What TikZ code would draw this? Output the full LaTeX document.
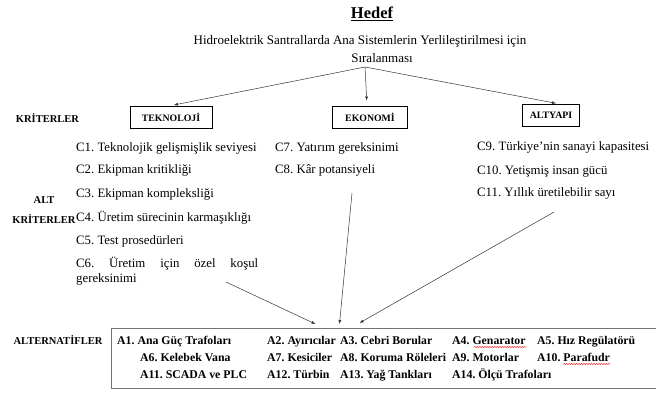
\documentclass[tikz,border=0pt]{standalone}
\usepackage{fontspec}
\setmainfont{Liberation Serif}
\usepackage{tikz}
\usetikzlibrary{arrows.meta,positioning,calc,decorations.pathmorphing}

\begin{document}
\begin{tikzpicture}[x=1pt,y=-1pt,
  baslik/.style={font=\fontsize{13}{16}\selectfont},
  etiket/.style={font=\bfseries\fontsize{10.5}{20}\selectfont},
  kutu/.style={draw,line width=0.9pt,minimum height=22,inner sep=2pt,font=\bfseries\fontsize{9.8}{10}\selectfont},
  altk/.style={anchor=base west,inner sep=0pt,font=\fontsize{12.8}{15}\selectfont},
  alter/.style={anchor=base west,inner sep=0pt,font=\bfseries\fontsize{11.8}{14}\selectfont},
  imla/.style={red!80,line width=0.5pt,decorate,decoration={snake,amplitude=0.6pt,segment length=2.5pt}},
  ok/.style={-{Latex[length=4pt,width=3pt]},line width=0.5pt,black!80}]
  \useasboundingbox (0,0) rectangle (656,394);
  % Hedef
  \node[font=\bfseries\fontsize{16.5}{18}\selectfont] (hedef) at (372,14) {\underline{Hedef}};
  \node[baslik] (amac) at (360,41) {Hidroelektrik Santrallarda Ana Sistemlerin Yerlileştirilmesi için};
  \node[baslik] (amac2) at (382,58) {Sıralanması};
  \coordinate (kok) at (365,67);
  % Kriterler
  \node[etiket] (kriter) at (47.5,118) {KRİTERLER};
  \node[kutu,minimum width=82] (tek) at (171,117) {TEKNOLOJİ};
  \node[kutu,minimum width=75] (eko) at (370,117) {EKONOMİ};
  \node[kutu,minimum width=57] (alty) at (551,115.5) {ALTYAPI};
  \draw[ok,shorten >=3pt] (kok) -- (tek.north);
  \draw[ok,shorten >=5pt] (kok) -- ($(eko.north)+(-3,0)$);
  \draw[ok,shorten >=4pt] (kok) -- ($(alty.north)+(9,0)$);
  % Alt kriterler
  \node[etiket,align=center] (altkriter) at (44,210) {ALT\\KRİTERLER};
  \foreach \i/\y/\t in {1/151/Teknolojik gelişmişlik seviyesi, 2/173/Ekipman kritikliği,
    3/197/Ekipman kompleksliği, 4/221/Üretim sürecinin karmaşıklığı, 5/244/Test prosedürleri}{
    \node[altk] (c\i) at (76,\y) {C\i.\ \t};
  }
  \node[altk,text width=182,align=justify] (c6) at (76,267)
    {\hyphenpenalty=10000 C6.\ Üretim için özel koşul \mbox{gereksinimi}};
  \node[altk] (c7) at (275,151) {C7.\ Yatırım gereksinimi};
  \node[altk] (c8) at (275,173) {C8.\ Kâr potansiyeli};
  \node[altk] (c9) at (477,150) {C9.\ Türkiye’nin sanayi kapasitesi};
  \node[altk] (c10) at (477,174) {C10.\ Yetişmiş insan gücü};
  \node[altk] (c11) at (477,196) {C11.\ Yıllık üretilebilir sayı};
  % Alternatifler
  \node[etiket] (alternatif) at (58,340) {ALTERNATİFLER};
  \node[draw=black!55,line width=0.8pt,anchor=north west,minimum width=560,minimum height=60] (altkutu) at (110.5,328) {};
  \foreach \n/\x/\y/\t in {1/117/344/Ana Güç Trafoları, 2/267/344/Ayırıcılar, 3/340/344/Cebri Borular,
    4/452/344/Genarator, 5/537/344/Hız Regülatörü,
    6/140/361/Kelebek Vana, 7/267/361/Kesiciler, 8/340/361/Koruma Röleleri,
    9/452/361/Motorlar, 10/537/361/Parafudr,
    11/140/378/SCADA ve PLC, 12/267/378/Türbin, 13/340/378/Yağ Tankları, 14/452/378/Ölçü Trafoları}{
    \node[alter] (a\n) at (\x,\y) {A\n.\ \t};
  }
  % yazim denetimi cizgileri
  \draw[imla] ($(a4.base west)!0.3!(a4.base east)+(0,3)$) -- ($(a4.base east)+(0,3)$);
  \draw[imla] ($(a10.base west)!0.36!(a10.base east)+(0,3)$) -- ($(a10.base east)+(0,3)$);
  % Alt kriterlerden alternatiflere
  \coordinate (u6) at (226,282);
  \coordinate (u8) at (352,193);
  \coordinate (u11) at (554,212);
  \draw[ok] (u6) -- ($(altkutu.north west)+(205,-4)$);
  \draw[ok] (u8) -- ($(altkutu.north west)+(229,-4)$);
  \draw[ok] (u11) -- ($(altkutu.north west)+(249,-5)$);
\end{tikzpicture}
\end{document}
